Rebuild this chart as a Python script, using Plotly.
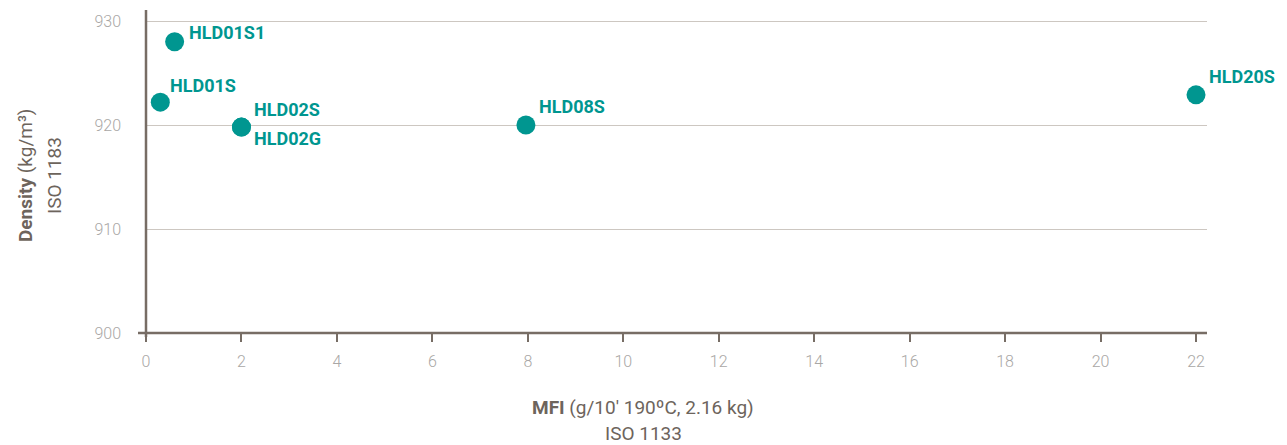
import plotly.graph_objects as go

# ---- data ----
grades = ["HLD01S1", "HLD01S", "HLD02S", "HLD02G", "HLD08S", "HLD20S"]
mfi = [0.6, 0.3, 2.0, 2.0, 7.96, 22.0]
density = [928.0, 922.2, 919.8, 919.8, 920.0, 922.9]
x_ticks = [0, 2, 4, 6, 8, 10, 12, 14, 16, 18, 20, 22]
y_ticks = [900, 910, 920, 930]

# ---- style ----
TEAL = "#009690"
AXIS = "#776d65"
GRID = "#cdc7c1"
TICK = "#a9a7a5"
TITLE = "#6d645c"
FONT = "Roboto"

# label offsets in px (dx, dy) relative to each marker centre
label_offsets = [(12, -9), (8, -17), (11, -18), (11, 11), (11, -19), (11, -18)]

# page body has an 8px margin: figure is offset by (8, 8) in the window
OFF = 8
W, H = 1287 - OFF, 445 - OFF
L, T = 146 - OFF, 10 - OFF
PR, PB = 1207 - OFF, 333 - OFF          # plot right / bottom in figure px
R, B = W - PR, H - PB
pw, ph = PR - L, PB - T


def px_x(px):
    return (px - OFF - L) / pw


def px_y(py):
    return (PB - (py - OFF)) / ph


fig = go.Figure()
fig.add_trace(go.Scatter(
    x=mfi, y=density, mode="markers",
    marker=dict(size=19, color=TEAL, line=dict(width=0)),
    hoverinfo="text", text=grades, showlegend=False,
))

for g, xv, yv, (dx, dy) in zip(grades, mfi, density, label_offsets):
    fig.add_annotation(
        x=xv, y=yv, text=f"<b>{g}</b>", showarrow=True, arrowcolor="rgba(0,0,0,0)",
        ax=dx, ay=dy, axref="pixel", ayref="pixel",
        xanchor="left", yanchor="middle",
        font=dict(family=FONT, size=18, color=TEAL),
    )

# axis titles (each line placed separately)
tfont = dict(family=FONT, size=19, color=TITLE)
fig.add_annotation(xref="paper", yref="paper", x=px_x(643), y=px_y(407),
                   text="<b>MFI</b> (g/10' 190ºC, 2.16 kg)", showarrow=False,
                   xanchor="center", yanchor="middle", font=tfont)
fig.add_annotation(xref="paper", yref="paper", x=px_x(643), y=px_y(433),
                   text="ISO 1133", showarrow=False,
                   xanchor="center", yanchor="middle", font=tfont)
fig.add_annotation(xref="paper", yref="paper", x=px_x(26), y=px_y(176),
                   text="<b>Density</b> (kg/m³)", showarrow=False, textangle=-90,
                   xanchor="center", yanchor="middle", font=tfont)
fig.add_annotation(xref="paper", yref="paper", x=px_x(55), y=px_y(176),
                   text="ISO 1183", showarrow=False, textangle=-90,
                   xanchor="center", yanchor="middle", font=tfont)

# axis lines (x axis extends a little left of y axis)
fig.add_shape(type="line", xref="paper", yref="paper",
              x0=-8 / pw, x1=1, y0=0, y1=0, line=dict(color=AXIS, width=2.5))
fig.add_shape(type="line", xref="paper", yref="paper",
              x0=0, x1=0, y0=-4 / ph, y1=1, line=dict(color=AXIS, width=2.5))

fig.update_xaxes(
    range=[0, 22.23], tickvals=x_ticks, ticktext=[str(v) for v in x_ticks],
    showgrid=False, zeroline=False, showline=False,
    ticks="outside", ticklen=8, tickwidth=2, tickcolor=AXIS,
    ticklabelstandoff=6,
    tickfont=dict(family=FONT, size=16, color=TICK, weight=300),
)
fig.update_yaxes(
    range=[900, 931.06], tickvals=y_ticks, ticktext=[str(v) for v in y_ticks],
    showgrid=True, gridcolor=GRID, gridwidth=1, zeroline=False, showline=False,
    ticks="", ticklabelstandoff=24,
    tickfont=dict(family=FONT, size=16, color=TICK, weight=300),
)

fig.update_layout(
    width=W, height=H,
    margin=dict(l=L, r=R, t=T, b=B, autoexpand=False),
    plot_bgcolor="white", paper_bgcolor="white",
)

fig.write_html("out.html")
